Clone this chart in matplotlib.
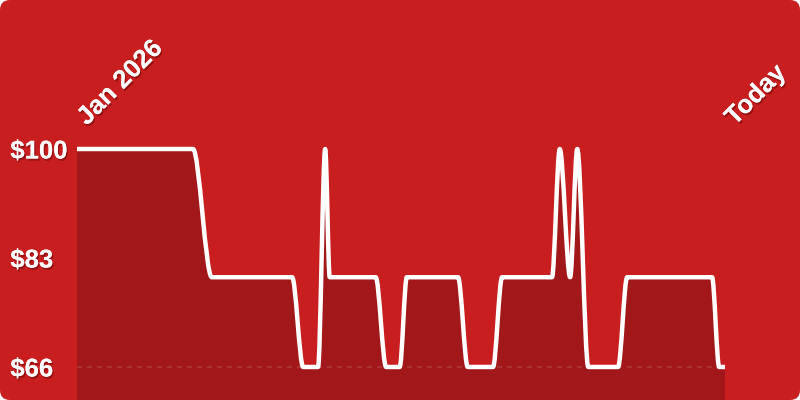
import matplotlib
matplotlib.use("Agg")
import matplotlib.pyplot as plt
import matplotlib.patheffects as pe
from matplotlib.patches import FancyBboxPatch, PathPatch
from matplotlib.path import Path
import numpy as np

# price history: day since Jan 1 2026 -> price
days = [0, 17.9, 20.8, 33.2, 34.9, 37.2, 38.3, 39.0, 46.1, 47.7, 49.8, 50.9,
        58.8, 60.3, 64.2, 65.6, 73.3, 74.5, 76.1, 77.2, 78.9, 83.5, 84.9,
        98.0, 99.1, 100]
prices = [100, 100, 80, 80, 66, 66, 100, 80, 80, 66, 66, 80,
          80, 66, 66, 80, 80, 100, 80, 100, 66, 66, 80,
          80, 66, 66]
tick_values = [100, 83, 66]
tick_labels = ["$100", "$83", "$66"]
start_label = "Jan 2026"
end_label = "Today"

BG = "#C91E1F"
FILL = "#A2181A"


# monotone cubic (d3 monotoneX style) -> bezier vertices
def monotone_path(x, y):
    x = np.asarray(x, float)
    y = np.asarray(y, float)
    h = np.diff(x)
    s = np.diff(y) / h
    m = np.zeros(len(x))
    for i in range(1, len(x) - 1):
        s0, s1 = s[i - 1], s[i]
        if s0 * s1 <= 0:
            continue
        p = (s0 * h[i] + s1 * h[i - 1]) / (h[i - 1] + h[i])
        m[i] = (np.sign(s0) + np.sign(s1)) * min(abs(s0), abs(s1), 0.5 * abs(p))
    verts = [(x[0], y[0])]
    codes = [Path.MOVETO]
    for i in range(len(x) - 1):
        d = h[i] / 3
        verts += [(x[i] + d, y[i] + m[i] * d),
                  (x[i + 1] - d, y[i + 1] - m[i + 1] * d),
                  (x[i + 1], y[i + 1])]
        codes += [Path.CURVE4] * 3
    return verts, codes


fig = plt.figure(figsize=(8, 4), dpi=100, facecolor="white")
bg = FancyBboxPatch((0, 0), 8, 4, boxstyle="round,pad=0,rounding_size=0.1",
                    transform=fig.dpi_scale_trans, facecolor=BG, edgecolor="none",
                    zorder=-1)
fig.add_artist(bg)

ax = fig.add_axes([77 / 800, 0, 648 / 800, 1])
ax.set_facecolor("none")
ax.set_xlim(days[0], days[-1])
ax.set_ylim(60.85, 123.24)

verts, codes = monotone_path(days, prices)
ybot = ax.get_ylim()[0]
fill_path = Path(verts + [(days[-1], ybot), (days[0], ybot), verts[0]],
                 codes + [Path.LINETO, Path.LINETO, Path.CLOSEPOLY])
ax.add_patch(PathPatch(fill_path, facecolor=FILL, edgecolor="none", zorder=1))

ax.hlines(min(prices), days[0], days[-1], colors="white", alpha=0.14,
          linewidth=1.2, linestyles=(0, (3, 3)), zorder=2)

ax.add_patch(PathPatch(Path(verts, codes), facecolor="none", edgecolor="white",
                       linewidth=3.2, capstyle="butt", joinstyle="round", zorder=3))

shadow = [pe.withSimplePatchShadow(offset=(1, -1.5), shadow_rgbFace="#5a0000", alpha=0.45),
          pe.Normal()]
font = ["Liberation Sans", "DejaVu Sans"]

ax.set_xticks([])
ax.set_yticks(tick_values)
ax.set_yticklabels(tick_labels, fontsize=18.5, fontweight="bold", color="white",
                   family=font)
ax.tick_params(axis="y", length=0, pad=48)
for lab in ax.get_yticklabels():
    lab.set_ha("left")
    lab.set_path_effects(shadow)
for sp in ax.spines.values():
    sp.set_visible(False)

for d, txt in [(days[0], start_label), (days[-1], end_label)]:
    ax.annotate(txt, xy=(d, 0.695), xycoords=ax.get_xaxis_transform(),
                xytext=(7, -3), textcoords="offset points",
                rotation=45, rotation_mode="anchor", ha="left", va="baseline",
                fontsize=18.5, fontweight="bold", color="white", family=font,
                path_effects=shadow, annotation_clip=False)

fig.savefig("out.png", dpi=100, facecolor="white")
